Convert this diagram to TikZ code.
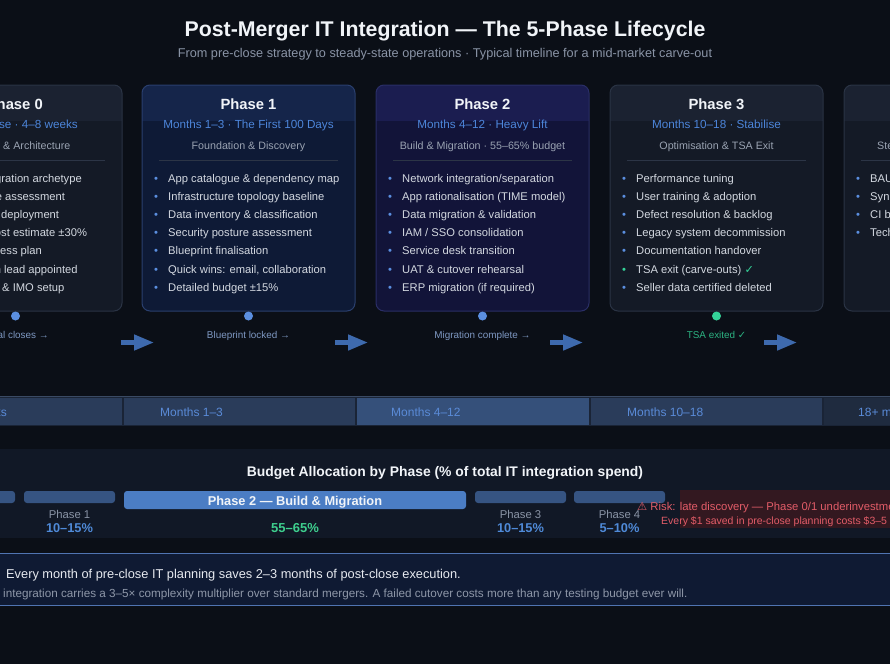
\documentclass[tikz,border=0pt]{standalone}
\usepackage{fontspec}
\setmainfont{Liberation Sans}
\newfontfamily\symfont{DejaVu Sans}
\usepackage{tikz}
\usetikzlibrary{arrows.meta}
\usepackage{xcolor}
\definecolor{bgc}{HTML}{0B0F17}
\definecolor{titlec}{HTML}{F1F4F8}
\definecolor{greyc}{HTML}{8A94A6}
\definecolor{subc}{HTML}{4D86DB}
\definecolor{thirdc}{HTML}{9AA3B2}
\definecolor{itemc}{HTML}{D3D8E0}
\definecolor{dotc}{HTML}{5B8FE0}
\definecolor{greenc}{HTML}{34D399}
\definecolor{sepc}{HTML}{2C3546}
\definecolor{milec}{HTML}{7E98C2}
\definecolor{arrowc}{HTML}{3E6AAE}
\definecolor{cgf}{HTML}{141A26}\definecolor{cgh}{HTML}{1B2231}\definecolor{cgb}{HTML}{2A3344}
\definecolor{cbf}{HTML}{0E1A36}\definecolor{cbh}{HTML}{15254A}\definecolor{cbb}{HTML}{2A3F6E}
\definecolor{cif}{HTML}{121439}\definecolor{cih}{HTML}{1B1D50}\definecolor{cib}{HTML}{2A2E66}
\definecolor{tlbg}{HTML}{1A2436}
\definecolor{tltop}{HTML}{3A4A64}
\definecolor{tlseg}{HTML}{2A3C5A}
\definecolor{tlcur}{HTML}{35507A}
\definecolor{tlfut}{HTML}{1F2B3F}
\definecolor{tltext}{HTML}{5A8BD8}
\definecolor{panelc}{HTML}{111826}
\definecolor{barc}{HTML}{365482}
\definecolor{bartwo}{HTML}{4B7DC4}
\definecolor{pctc}{HTML}{4F8AD8}
\definecolor{pctg}{HTML}{3ECF8E}
\definecolor{riskbg}{HTML}{3A1820}
\definecolor{riskc}{HTML}{E25C68}
\definecolor{calf}{HTML}{0F1A33}
\definecolor{calb}{HTML}{5074B2}
\definecolor{calt}{HTML}{E6E9EF}
\definecolor{calg}{HTML}{8E97A8}
\newcommand{\fs}[1]{\fontsize{#1}{#1}\selectfont}
\newcommand{\bul}[1]{\makebox[14pt][l]{\textcolor{#1}{•}}}
\newcommand{\tick}{{\symfont ✓}}
\newcommand{\warn}{{\symfont ⚠}}
% card: name, left x, fill, header, border
\newcommand{\phcard}[5]{%
\begin{scope}
\clip[rounded corners=8pt] (#2,85) rectangle ++(213,226);
\fill[#3] (#2,85) rectangle ++(213,226);
\fill[#4] (#2,85) rectangle ++(213,36);
\end{scope}
\draw[#5,rounded corners=8pt,line width=1pt] (#2,85) rectangle ++(213,226);
\draw[sepc,line width=0.8pt] (#2+17,160.5) -- (#2+196,160.5);
\coordinate (#1) at (#2+106.5,85);}

\begin{document}
\begin{tikzpicture}[x=1pt,y=-1pt]
\tikzstyle{every node}=[inner sep=0pt,anchor=base]
\tikzstyle{ph}=[font=\fs{14.8}\bfseries,text=titlec]
\tikzstyle{sub}=[font=\fs{11.7},text=subc]
\tikzstyle{third}=[font=\fs{10.7},text=thirdc]
\tikzstyle{item}=[font=\fs{11.2},text=itemc,anchor=base west]
\tikzstyle{mile}=[font=\fs{9.9},text=milec]
\tikzstyle{mdot}=[circle,fill=dotc,minimum size=9pt,anchor=center]
\tikzstyle{flow}=[line width=4.5pt,arrowc,-{Triangle[length=20pt,width=15pt]}]
\tikzstyle{tl}=[font=\fs{12},text=tltext,anchor=base west]
\tikzstyle{pname}=[font=\fs{11.3},text=greyc]
\tikzstyle{pct}=[font=\fs{12.8}\bfseries,text=pctc]
\useasboundingbox (0,0) rectangle (890,664);
\clip (0,0) rectangle (890,664);
\fill[bgc] (0,0) rectangle (890,664);

% title
\node[font=\fs{21.3}\bfseries,text=titlec] (title) at (445,36.5) {Post-Merger IT Integration — The 5-Phase Lifecycle};
\node[font=\fs{12.7},text=greyc] (subtitle) at (445,57.5) {From pre-close strategy to steady-state operations · Typical timeline for a mid-market carve-out};

% phase cards
\phcard{c0}{-91}{cgf}{cgh}{cgb}
\phcard{c1}{142}{cbf}{cbh}{cbb}
\phcard{c2}{376}{cif}{cih}{cib}
\phcard{c3}{610}{cgf}{cgh}{cgb}
\phcard{c4}{844}{cgf}{cgh}{cgb}

% phase 0
\node[ph,anchor=base east] (p0h) at (43,109.5) {Phase 0};
\node[sub,anchor=base east] (p0s) at (78,128.5) {Pre-close · 4–8 weeks};
\node[third,anchor=base west] (p0t) at (3,149.5) {\llap{Strategy }\& Architecture};
\node[item] (p0a) at (5,182) {\llap{Define integr}ation archetype};
\node[item] (p0b) at (5,200.2) {\llap{IT landscape }assessment};
\node[item] (p0c) at (1,218.4) {\llap{Clean room }deployment};
\node[item] (p0d) at (1,236.6) {\llap{High-level co}st estimate ±30\%};
\node[item] (p0e) at (0,254.8) {\llap{Day 1 readin}ess plan};
\node[item] (p0f) at (4,273) {\llap{IT integration }lead appointed};
\node[item] (p0g) at (2,291.2) {\llap{IT governance }\& IMO setup};

% phase 1
\node[ph] (p1h) at (248.5,109.5) {Phase 1};
\node[sub] (p1s) at (248.5,128.5) {Months 1–3 · The First 100 Days};
\node[third] (p1t) at (248.5,149.5) {Foundation \& Discovery};
\node[item] (p1a) at (154,182) {\bul{dotc}App catalogue \& dependency map};
\node[item] (p1b) at (154,200.2) {\bul{dotc}Infrastructure topology baseline};
\node[item] (p1c) at (154,218.4) {\bul{dotc}Data inventory \& classification};
\node[item] (p1d) at (154,236.6) {\bul{dotc}Security posture assessment};
\node[item] (p1e) at (154,254.8) {\bul{dotc}Blueprint finalisation};
\node[item] (p1f) at (154,273) {\bul{dotc}Quick wins: email, collaboration};
\node[item] (p1g) at (154,291.2) {\bul{dotc}Detailed budget ±15\%};

% phase 2
\node[ph] (p2h) at (482.5,109.5) {Phase 2};
\node[sub] (p2s) at (482.5,128.5) {Months 4–12 · Heavy Lift};
\node[third] (p2t) at (482.5,149.5) {Build \& Migration · 55–65\% budget};
\node[item] (p2a) at (388,182) {\bul{dotc}Network integration/separation};
\node[item] (p2b) at (388,200.2) {\bul{dotc}App rationalisation (TIME model)};
\node[item] (p2c) at (388,218.4) {\bul{dotc}Data migration \& validation};
\node[item] (p2d) at (388,236.6) {\bul{dotc}IAM / SSO consolidation};
\node[item] (p2e) at (388,254.8) {\bul{dotc}Service desk transition};
\node[item] (p2f) at (388,273) {\bul{dotc}UAT \& cutover rehearsal};
\node[item] (p2g) at (388,291.2) {\bul{dotc}ERP migration (if required)};

% phase 3
\node[ph] (p3h) at (716.5,109.5) {Phase 3};
\node[sub] (p3s) at (716.5,128.5) {Months 10–18 · Stabilise};
\node[third] (p3t) at (716.5,149.5) {Optimisation \& TSA Exit};
\node[item] (p3a) at (622,182) {\bul{dotc}Performance tuning};
\node[item] (p3b) at (622,200.2) {\bul{dotc}User training \& adoption};
\node[item] (p3c) at (622,218.4) {\bul{dotc}Defect resolution \& backlog};
\node[item] (p3d) at (622,236.6) {\bul{dotc}Legacy system decommission};
\node[item] (p3e) at (622,254.8) {\bul{dotc}Documentation handover};
\node[item] (p3f) at (622,273) {\bul{greenc}TSA exit (carve-outs) \textcolor{greenc}{\tick}};
\node[item] (p3g) at (622,291.2) {\bul{dotc}Seller data certified deleted};

% phase 4
\node[third,anchor=base west] (p4t) at (877,149.5) {Steady State \& Optimisation};
\node[item] (p4a) at (856,182) {\bul{dotc}BAU operations handover};
\node[item] (p4b) at (856,200.2) {\bul{dotc}Synergy realisation tracking};
\node[item] (p4c) at (856,218.4) {\bul{dotc}CI backlog \& roadmap};
\node[item] (p4d) at (856,236.6) {\bul{dotc}Tech debt retirement};

% milestones
\node[mdot] (m0) at (15.5,316) {};
\node[mdot] (m1) at (248.5,316) {};
\node[mdot] (m2) at (482.5,316) {};
\node[mdot,fill=greenc] (m3) at (716.5,316) {};
\node[mile,anchor=base east] (l0) at (49,338.5) {Deal closes →};
\node[mile] (l1) at (248.5,338.5) {Blueprint locked →};
\node[mile] (l2) at (482.5,338.5) {Migration complete →};
\node[mile,text=greenc!85!black] (l3) at (716.5,338.5) {TSA exited \tick};

\coordinate (f1a) at (121,342.5); \coordinate (f1b) at (154,342.5);
\coordinate (f2a) at (335,342.5); \coordinate (f2b) at (368,342.5);
\coordinate (f3a) at (550,342.5); \coordinate (f3b) at (583,342.5);
\coordinate (f4a) at (764,342.5); \coordinate (f4b) at (797,342.5);
\draw[flow] (f1a) -- (f1b);
\draw[flow] (f2a) -- (f2b);
\draw[flow] (f3a) -- (f3b);
\draw[flow] (f4a) -- (f4b);

% timeline
\fill[tlbg] (-10,396) rectangle (900,426);
\fill[tlseg] (-120,397.5) rectangle (121.5,424.5);
\fill[tlseg] (123.5,397.5) rectangle (355,424.5);
\fill[tlcur] (357,397.5) rectangle (588.5,424.5);
\fill[tlseg] (590.5,397.5) rectangle (822,424.5);
\fill[tlfut] (824,397.5) rectangle (1060,424.5);
\draw[tltop,line width=1pt] (-10,396.5) -- (900,396.5);
\node[tl,anchor=base east] (t0) at (7,416.5) {4–8 weeks};
\node[tl] (t1) at (160,416.5) {Months 1–3};
\node[tl] (t2) at (391,416.5) {Months 4–12};
\node[tl] (t3) at (627,416.5) {Months 10–18};
\node[tl] (t4) at (858,416.5) {18+ months};

% budget
\fill[panelc] (-10,449) rectangle (900,538);
\node[font=\fs{13.9}\bfseries,text=titlec] (btitle) at (445,476) {Budget Allocation by Phase (\% of total IT integration spend)};
\fill[barc,rounded corners=3pt] (-76,491) rectangle (15,503);
\fill[barc,rounded corners=3pt] (24,491) rectangle (115,503);
\fill[bartwo,rounded corners=3pt] (124,491) rectangle (466,509);
\fill[barc,rounded corners=3pt] (475,491) rectangle (566,503);
\fill[barc,rounded corners=3pt] (574,491) rectangle (665,503);
\node[font=\fs{12.8}\bfseries,text=titlec] (b2) at (295,505.5) {Phase 2 — Build \& Migration};
\node[pname] (n1) at (69.5,518) {Phase 1};
\node[pct] (v1) at (69.5,532.5) {10–15\%};
\node[font=\fs{13}\bfseries,text=pctg] (v2) at (295,532.5) {55–65\%};
\node[pname] (n3) at (520.5,518) {Phase 3};
\node[pct] (v3) at (520.5,532.5) {10–15\%};
\node[pname] (n4) at (619.5,518) {Phase 4};
\node[pct] (v4) at (619.5,532.5) {5–10\%};
\fill[riskbg,opacity=0.85] (680,490) rectangle (900,528);
\node[font=\fs{11.3},text=riskc,anchor=base west] (r1) at (637,510) {\warn\ Risk: late discovery — Phase 0/1 underinvestment};
\node[font=\fs{10.5},text=riskc,anchor=base west] (r2) at (661,524.5) {Every \$1 saved in pre-close planning costs \$3–5 post-close};

% callout
\fill[calf] (-10,553) rectangle (900,606);
\draw[calb,line width=1.5pt] (-10,553.5) -- (900,553.5);
\draw[calb,line width=1.5pt] (-10,605.5) -- (900,605.5);
\node[font=\fs{12.8},text=calt,anchor=base west] (k1) at (6,578.5) {Every month of pre-close IT planning saves 2–3 months of post-close execution.};
\node[font=\fs{11.7},text=calg,anchor=base west] (k2) at (3,597.5) {\llap{Carve-out }integration carries a 3–5× complexity multiplier over standard mergers. A failed cutover costs more than any testing budget ever will.};
\end{tikzpicture}
\end{document}
